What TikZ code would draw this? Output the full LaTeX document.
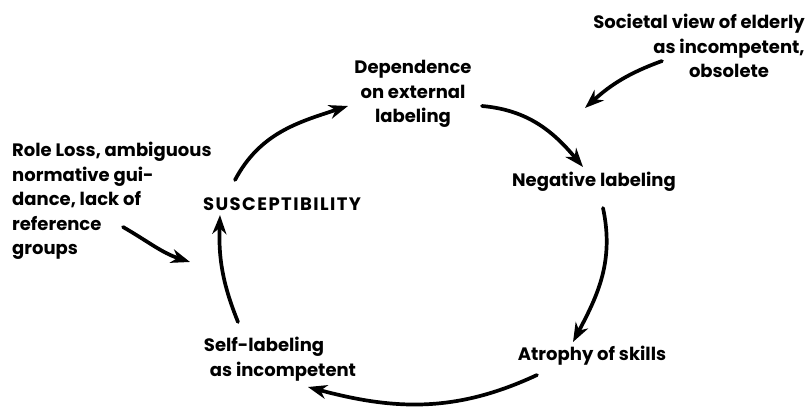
\documentclass[tikz,border=0pt]{standalone}
\usepackage{fontspec}
\setmainfont{Poppins}
\usetikzlibrary{arrows.meta}

\tikzset{
    label/.style={inner sep=0pt, font=\fontsize{18}{24.5}\selectfont\bfseries},
    cyc/.style={line width=3.7pt, line cap=round,
        -{Stealth[length=19pt,width=14pt,inset=6pt]}},
}

\begin{document}
\begin{tikzpicture}[x=1pt,y=1pt]
    \useasboundingbox (0,0) rectangle (811,412);

    % Stages of the cycle
    \node[label, align=center] (dep) at (413,318) {Dependence\\on external\\labeling};
    \node[label] (neg) at (594,230) {Negative labeling};
    \node[label] (atr) at (592,56) {Atrophy of skills};
    \node[label, align=left] (self) at (280,53) {Self-labeling\\\hspace*{6pt}as incompetent};
    \node[label, font=\fontsize{18}{24.5}\selectfont\bfseries\addfontfeatures{LetterSpace=8}]
        (susc) at (282,208) {SUSCEPTIBILITY};

    % Outside influences
    \node[label, align=left, anchor=west] (role) at (12,211)
        {Role Loss, ambiguous\\normative gui-\\dance, lack of\\reference\\groups};
    \node[label, align=center] (soc) at (729,366)
        {Societal view of elderly\hspace*{60pt}\\as incompetent,\\obsolete};
    \coordinate (rolein) at (190,150);
    \coordinate (socin) at (585,304);

    % Cycle arrows
    \draw[cyc] ([shift={(-47,24)}]susc.center) to[out=62,in=198] ([shift={(-65,-12)}]dep.center);
    \draw[cyc] ([shift={(69,-12)}]dep.center) to[out=-5,in=130] ([shift={(-11,15)}]neg.center);
    \draw[cyc] ([shift={(9,-26)}]neg.center) to[out=-78,in=62] ([shift={(-19,14)}]atr.center);
    \draw[cyc] ([shift={(-55,-19)}]atr.center) to[out=-155,in=-15] ([shift={(28,-28)}]self.center);
    \draw[cyc] ([shift={(-42,37)}]self.center) to[out=112,in=-92] ([shift={(-62,-11)}]susc.center);

    % Influence arrows
    \draw[cyc] ([shift={(111,-26)}]role.west) to[out=-30,in=162] (rolein);
    \draw[cyc] ([shift={(-67,-15)}]soc.center) to[out=200,in=42] (socin);
\end{tikzpicture}
\end{document}
